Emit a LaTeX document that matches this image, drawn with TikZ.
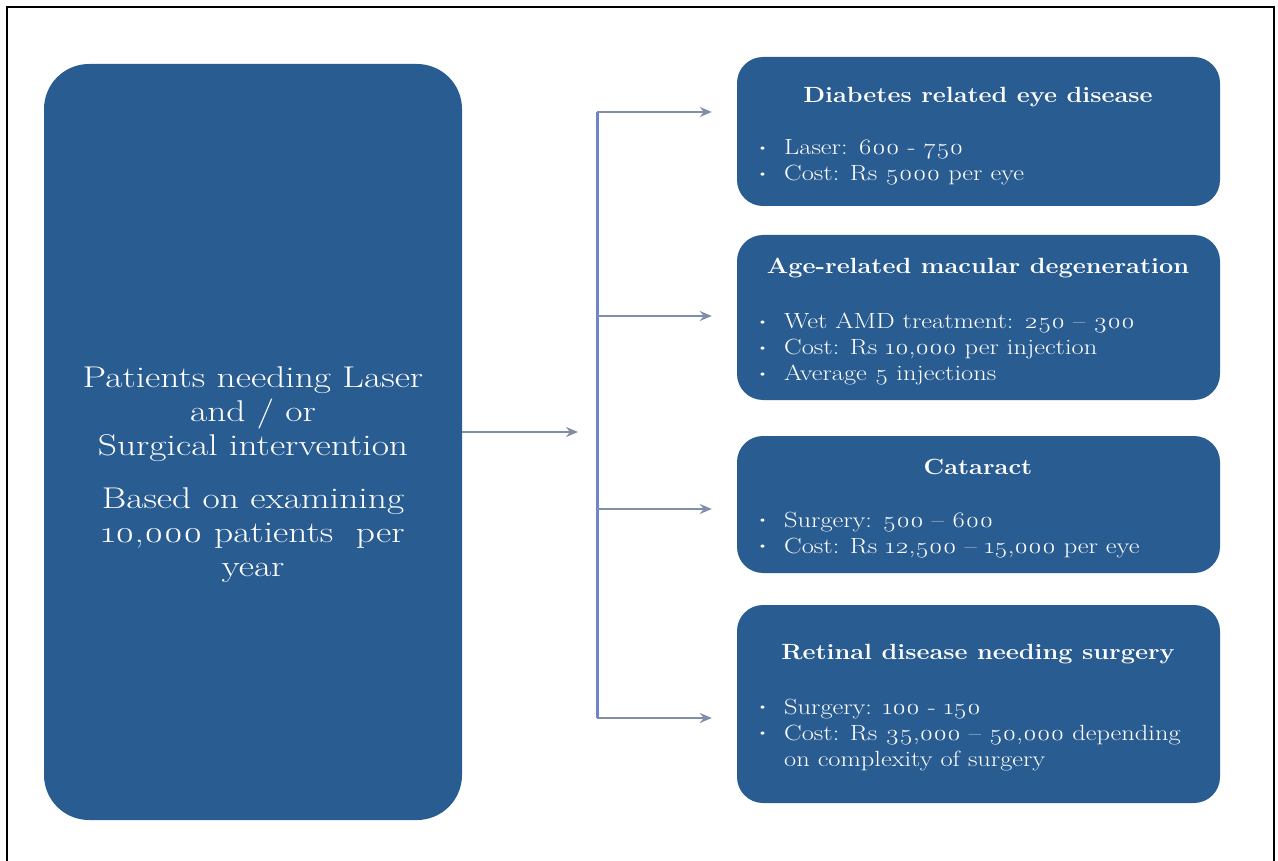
\documentclass[tikz,border=0pt]{standalone}
\usepackage{fontspec}
\setmainfont{Latin Modern Roman}[Numbers=OldStyle]
\newfontfamily\leftfont{Latin Modern Roman}[Numbers=OldStyle, FakeStretch=1.25, Ligatures=TeX]
\newfontfamily\bodyfont{Latin Modern Roman}[Numbers=OldStyle, FakeStretch=1.2, Ligatures=TeX]
\newfontfamily\headfont{Latin Modern Roman}[Numbers=OldStyle, FakeStretch=1.15, Ligatures=TeX]
\usetikzlibrary{arrows.meta,calc}
\definecolor{boxblue}{RGB}{41,92,145}
\definecolor{arrgray}{RGB}{128,142,168}
\definecolor{busblue}{RGB}{112,132,200}
\tikzset{
  bigbox/.style={draw=none, fill=boxblue, rounded corners=45pt, minimum width=418pt, minimum height=756pt, inner sep=0pt},
  catbox/.style={draw=none, fill=boxblue, rounded corners=26pt, minimum width=483pt, inner sep=0pt},
  bigtext/.style={text=white, align=center, font=\leftfont\fontsize{30}{34}\selectfont},
  titletext/.style={text=white, font=\headfont\fontsize{22}{26}\selectfont\bfseries},
  bodytext/.style={text=white, anchor=base west, inner sep=0pt, font=\bodyfont\fontsize{22}{26}\selectfont},
  arr/.style={draw=arrgray, line width=2pt, -{Stealth[length=12pt,width=10pt]}},
  bus/.style={draw=busblue, line width=3pt}
}
\newcommand{\bul}{\raisebox{0.15em}{\fontsize{12}{12}\selectfont\textbullet}}
\begin{document}
\begin{tikzpicture}[x=1pt,y=-1pt]
\useasboundingbox (0,0) rectangle (1278,861);
% frame
\draw[line width=2pt, black] (7,861) -- (7,7) -- (1274,7) -- (1274,861);
% left box
\node[bigbox] (left) at (253,442) {};
\node[bigtext] (lefttext) at (253,475) {Patients needing Laser\\and / or\\Surgical intervention\\[19pt]Based on examining\\10,000 patients\ \ per\\year};
% right boxes
\node[catbox, minimum height=149pt] (b1) at (978.5,131.5) {};
\node[catbox, minimum height=165pt] (b2) at (978.5,317.5) {};
\node[catbox, minimum height=137pt] (b3) at (978.5,504.5) {};
\node[catbox, minimum height=198pt] (b4) at (978.5,704) {};
% titles
\node[titletext] (t1) at (978,97) {Diabetes related eye disease};
\node[titletext] (t2) at (978,268) {Age-related macular degeneration};
\node[titletext] (t3) at (978,467) {Cataract};
\node[titletext] (t4) at (978,654) {Retinal disease needing surgery};
% bullets
\node[bodytext] (l1) at (757,155) {\begin{tabular}[t]{@{}l@{\hspace{16pt}}l@{}}
\bul & Laser: 600 - 750\\
\bul & Cost: Rs 5000 per eye
\end{tabular}};
\node[bodytext] (l2) at (757,329) {\begin{tabular}[t]{@{}l@{\hspace{16pt}}l@{}}
\bul & Wet AMD treatment: 250 – 300\\
\bul & Cost: Rs 10,000 per injection\\
\bul & Average 5 injections
\end{tabular}};
\node[bodytext] (l3) at (757,527) {\begin{tabular}[t]{@{}l@{\hspace{16pt}}l@{}}
\bul & Surgery: 500 – 600\\
\bul & Cost: Rs 12,500 – 15,000 per eye
\end{tabular}};
\node[bodytext] (l4) at (757,714) {\begin{tabular}[t]{@{}l@{\hspace{16pt}}l@{}}
\bul & Surgery: 100 - 150\\
\bul & Cost: Rs 35,000 – 50,000 depending\\
 & on complexity of surgery
\end{tabular}};
% connectors
\coordinate (m) at (578,432);
\coordinate (j1) at (597,112);
\coordinate (j2) at (597,316);
\coordinate (j3) at (597,509);
\coordinate (j4) at (597,718);
\draw[arr] (left.east |- m) -- (m);
\draw[bus] (j1) -- (j4);
\draw[arr, shorten >=25pt] (j1) -- (j1 -| b1.west);
\draw[arr, shorten >=25pt] (j2) -- (j2 -| b2.west);
\draw[arr, shorten >=25pt] (j3) -- (j3 -| b3.west);
\draw[arr, shorten >=25pt] (j4) -- (j4 -| b4.west);
\end{tikzpicture}
\end{document}
